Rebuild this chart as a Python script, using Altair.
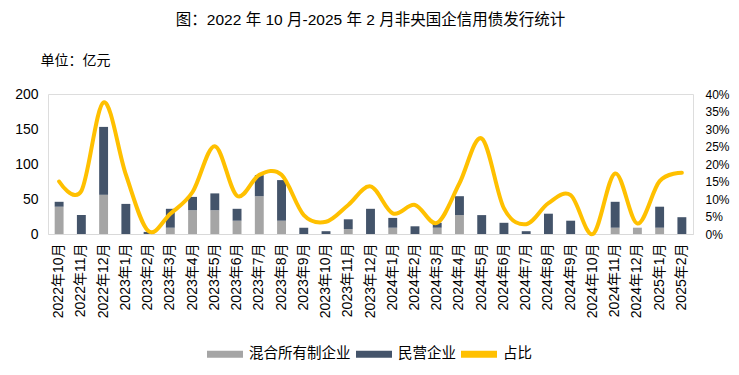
import altair as alt
import pandas as pd

months = [
    "2022年10月", "2022年11月", "2022年12月",
    "2023年1月", "2023年2月", "2023年3月", "2023年4月", "2023年5月", "2023年6月",
    "2023年7月", "2023年8月", "2023年9月", "2023年10月", "2023年11月", "2023年12月",
    "2024年1月", "2024年2月", "2024年3月", "2024年4月", "2024年5月", "2024年6月",
    "2024年7月", "2024年8月", "2024年9月", "2024年10月", "2024年11月", "2024年12月",
    "2025年1月", "2025年2月",
]
mixed = [39, 0, 56, 0, 0, 9, 34, 34, 19, 54, 19, 0, 0, 7, 0,
         9, 0, 9, 27, 0, 0, 0, 0, 0, 0, 9, 9, 9, 0]
private = [7, 27, 97, 43, 3, 27, 19, 24, 17, 30, 58, 9, 4, 14, 36,
           14, 11, 7, 27, 27, 16, 4, 29, 19, 0, 37, 0, 30, 24]
ratio = [15.0, 12.3, 37.6, 17.0, 0.9, 5.8, 12.0, 25.1, 10.9, 16.9, 16.9, 5.4, 3.5, 8.3, 13.6,
         5.9, 8.3, 3.2, 14.5, 27.3, 7.3, 2.8, 8.8, 11.1, 0.0, 17.3, 3.0, 15.1, 17.5]

series_names = ["混合所有制企业", "民营企业", "占比"]
colors = ["#A5A5A5", "#44546A", "#FFC000"]

FONT = "'Liberation Sans', 'Noto Sans CJK SC', sans-serif"

bar_rows = []
for i, m in enumerate(months):
    bar_rows.append({"month": m, "series": series_names[0], "value": mixed[i], "ord": 0})
    bar_rows.append({"month": m, "series": series_names[1], "value": private[i], "ord": 1})
bars_df = pd.DataFrame(bar_rows)
line_df = pd.DataFrame({"month": months, "ratio": ratio, "series": series_names[2]})

x_enc = alt.X(
    "month:N",
    sort=months,
    scale=alt.Scale(paddingInner=0.6, paddingOuter=0.3),
    axis=alt.Axis(
        title=None, labelAngle=-90, labelFontSize=14, labelFont=FONT,
        labelColor="#000000", ticks=False, domainColor="#D9D9D9",
        domainWidth=1, labelPadding=9,
    ),
)

color_scale = alt.Scale(domain=series_names, range=colors)

bars = alt.Chart(bars_df).mark_bar().encode(
    x=x_enc,
    y=alt.Y(
        "value:Q",
        stack="zero",
        scale=alt.Scale(domain=[0, 200], nice=False),
        axis=alt.Axis(
            title="单位：亿元", titleAngle=0, titleX=-8, titleY=-30,
            titleAlign="left", titleBaseline="alphabetic", titleFontSize=14,
            titleFontWeight="normal", titleFont=FONT, titleColor="#000000",
            values=[0, 50, 100, 150, 200], labelFontSize=14, labelFont=FONT,
            labelColor="#000000", domain=False, ticks=False, grid=False,
            labelPadding=10,
        ),
    ),
    color=alt.Color(
        "series:N",
        scale=color_scale,
        legend=alt.Legend(
            title=None, orient="none", legendX=159, legendY=242,
            direction="horizontal",
            symbolType="M-1,-0.2L1,-0.2L1,0.2L-1,0.2Z",
            symbolSize=1296, symbolStrokeWidth=0,
            labelFontSize=14.5, labelFont=FONT, labelColor="#000000",
            labelOffset=6, columnPadding=5,
        ),
    ),
    order=alt.Order("ord:Q", sort="ascending"),
)

line = alt.Chart(line_df).mark_line(
    interpolate="cardinal", strokeWidth=4, strokeCap="round", strokeJoin="round"
).encode(
    x=alt.X("month:N", sort=months),
    y=alt.Y(
        "ratio:Q",
        scale=alt.Scale(domain=[0, 40], nice=False),
        axis=alt.Axis(
            orient="right", title=None, values=[0, 5, 10, 15, 20, 25, 30, 35, 40],
            labelExpr="datum.value + '%'", labelFontSize=12, labelFont=FONT,
            labelColor="#000000", domain=False, ticks=False, grid=False,
            labelPadding=12,
        ),
    ),
    color=alt.Color("series:N", scale=color_scale),
)

chart = (
    alt.layer(bars, line)
    .resolve_scale(y="independent")
    .properties(
        width=645,
        height=140,
        autosize=alt.AutoSizeParams(type="none"),
        padding={"left": 40, "top": 86, "right": 38, "bottom": 130},
        title=alt.TitleParams(
            "图：2022 年 10 月-2025 年 2 月非央国企信用债发行统计",
            anchor="middle", fontSize=15.5, font=FONT, fontWeight="normal",
            color="#000000", offset=25,
        ),
    )
    .configure_view(stroke=None)
    .configure(background="white")
)

chart.save("out.html", embed_options={"renderer": "svg", "actions": False})
